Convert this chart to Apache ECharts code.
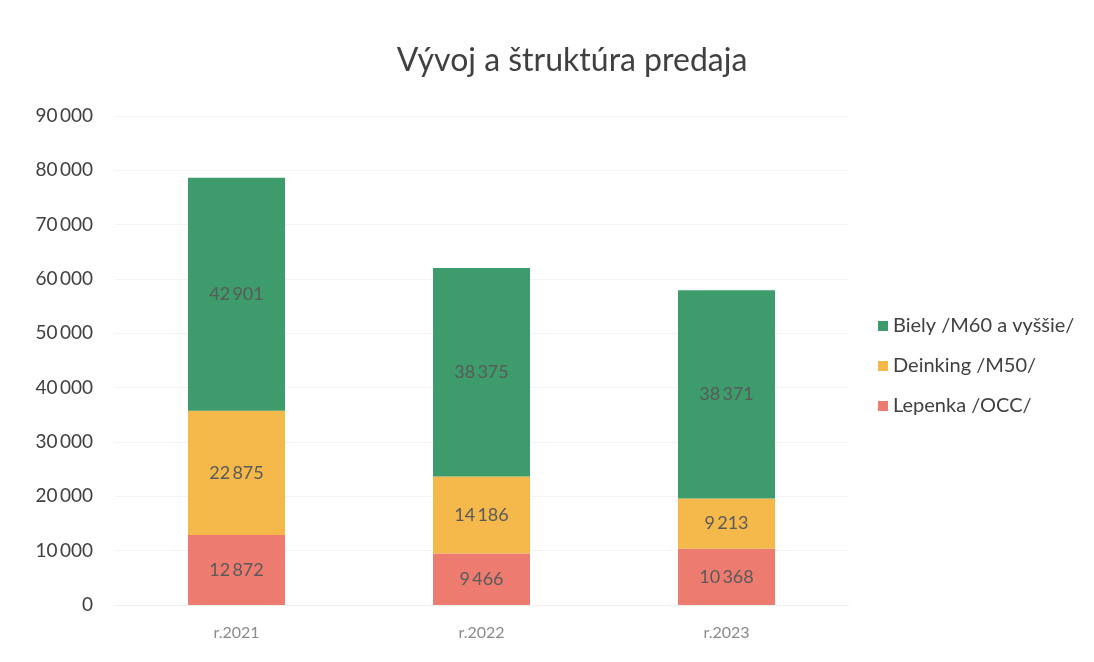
<!DOCTYPE html>
<html>
<head>
<meta charset="utf-8">
<script src="https://cdn.jsdelivr.net/npm/echarts@6/dist/echarts.min.js"></script>
<style>
  html, body { margin: 0; padding: 0; background: #ffffff; }
  #chart { width: 1094px; height: 662px; }
</style>
</head>
<body>
<div id="chart"></div>
<script>
// roky
var years = ['r.2021', 'r.2022', 'r.2023'];
// hodnoty podla druhu
var lepenka = [12872, 9466, 10368];
var deinking = [22875, 14186, 9213];
var biely = [42901, 38375, 38371];
var seriesNames = ['Biely /M60 a vyššie/', 'Deinking /M50/', 'Lepenka /OCC/'];

function fmt(v) {
    // medzera ako oddelovac tisicov
    return String(v).replace(/\B(?=(\d{3})+(?!\d))/g, '\u2009');
}

var chart = echarts.init(document.getElementById('chart'));
var labelStyle = {
    show: true,
    position: 'inside',
    color: '#5a5a5a',
    fontSize: 18,
    fontFamily: 'Lato',
    formatter: function (p) { return fmt(p.value); }
};
var option = {
    backgroundColor: '#FFFFFF',
    animation: false,
    title: {
        text: 'Vývoj a štruktúra predaja',
        left: 567,
        top: 40,
        textAlign: 'center',
        textStyle: {
            fontFamily: 'Lato',
            fontWeight: 'normal',
            fontSize: 32,
            color: '#404040'
        }
    },
    legend: {
        orient: 'vertical',
        left: 873,
        top: 311,
        itemWidth: 10,
        itemHeight: 10,
        itemGap: 20,
        icon: 'rect',
        data: seriesNames,
        textStyle: {
            fontFamily: 'Lato',
            fontSize: 20,
            color: '#404040'
        }
    },
    grid: {
        left: 114,
        right: 245,
        top: 116,
        bottom: 57
    },
    xAxis: {
        type: 'category',
        data: years,
        axisLine: { show: true, lineStyle: { color: '#f0f0f0' } },
        axisTick: { show: false },
        axisLabel: {
            margin: 20,
            color: '#8a8a8a',
            fontFamily: 'Lato',
            fontSize: 16
        }
    },
    yAxis: {
        type: 'value',
        min: 0,
        max: 90000,
        interval: 10000,
        axisLine: { show: false },
        axisTick: { show: false },
        splitLine: { lineStyle: { color: '#f3f3f3' } },
        axisLabel: {
            margin: 21,
            color: '#404040',
            fontFamily: 'Lato',
            fontSize: 19,
            formatter: fmt
        }
    },
    series: [
        {
            name: seriesNames[2],
            type: 'bar',
            stack: 'total',
            barWidth: 97,
            data: lepenka,
            itemStyle: { color: '#ee7b6f' },
            label: labelStyle
        },
        {
            name: seriesNames[1],
            type: 'bar',
            stack: 'total',
            data: deinking,
            itemStyle: { color: '#f5b84b' },
            label: labelStyle
        },
        {
            name: seriesNames[0],
            type: 'bar',
            stack: 'total',
            data: biely,
            itemStyle: { color: '#3d9b6c' },
            label: labelStyle
        }
    ]
};
chart.setOption(option);
</script>
</body>
</html>
